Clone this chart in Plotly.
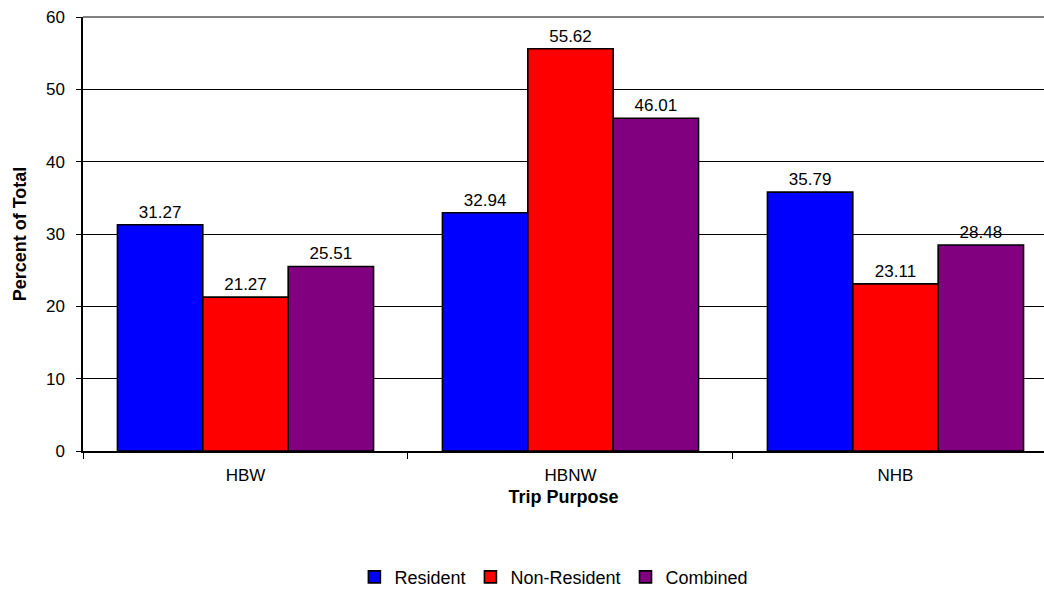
import plotly.graph_objects as go

categories = ["HBW", "HBNW", "NHB"]
resident = [31.27, 32.94, 35.79]
non_resident = [21.27, 55.62, 23.11]
combined = [25.51, 46.01, 28.48]

series = [
    ("Resident", resident, "#0000FF"),
    ("Non-Resident", non_resident, "#FF0000"),
    ("Combined", combined, "#800080"),
]

FONT = "Liberation Sans, Arial, sans-serif"

fig = go.Figure()
for name, vals, color in series:
    fig.add_trace(go.Bar(
        name=name, x=categories, y=vals,
        marker=dict(color=color, line=dict(color="black", width=1.6)),
        text=[f"{v:.2f}" for v in vals], textposition="outside",
        textfont=dict(family=FONT, size=17, color="black"),
        cliponaxis=False,
    ))

fig.update_layout(
    width=1044, height=592,
    margin=dict(l=83, r=0, t=17, b=141),
    paper_bgcolor="white", plot_bgcolor="white",
    barmode="group", bargap=0.212, bargroupgap=0,
    font=dict(family=FONT, size=17, color="black"),
    showlegend=True,
    legend=dict(orientation="h", x=0.49, xanchor="center", yref="container",
                y=0.025, yanchor="middle", font=dict(size=18),
                itemwidth=30, traceorder="normal", tracegroupgap=0),
)
fig.update_xaxes(
    title=dict(text="<b>Trip Purpose</b>", font=dict(size=18), standoff=6),
    range=[-0.5, 2.457],
    showline=True, linecolor="black", linewidth=1.5,
    ticks="outside", tickson="boundaries", ticklen=6, tickcolor="black",
    tickfont=dict(size=17), ticklabelstandoff=8, showgrid=False,
)
fig.update_yaxes(
    title=dict(text="<b>Percent of Total</b>", font=dict(size=18), standoff=15),
    range=[0, 60], dtick=10,
    showline=True, linecolor="black", linewidth=1.5,
    ticks="outside", ticklen=5, tickcolor="black",
    tickfont=dict(size=17), ticklabelstandoff=8,
    showgrid=True, gridcolor="black", gridwidth=1,
    zeroline=False,
)
fig.add_shape(type="line", xref="paper", yref="paper", x0=0, x1=1, y0=1, y1=1,
              line=dict(color="#808080", width=2))
fig.write_html("out.html")
